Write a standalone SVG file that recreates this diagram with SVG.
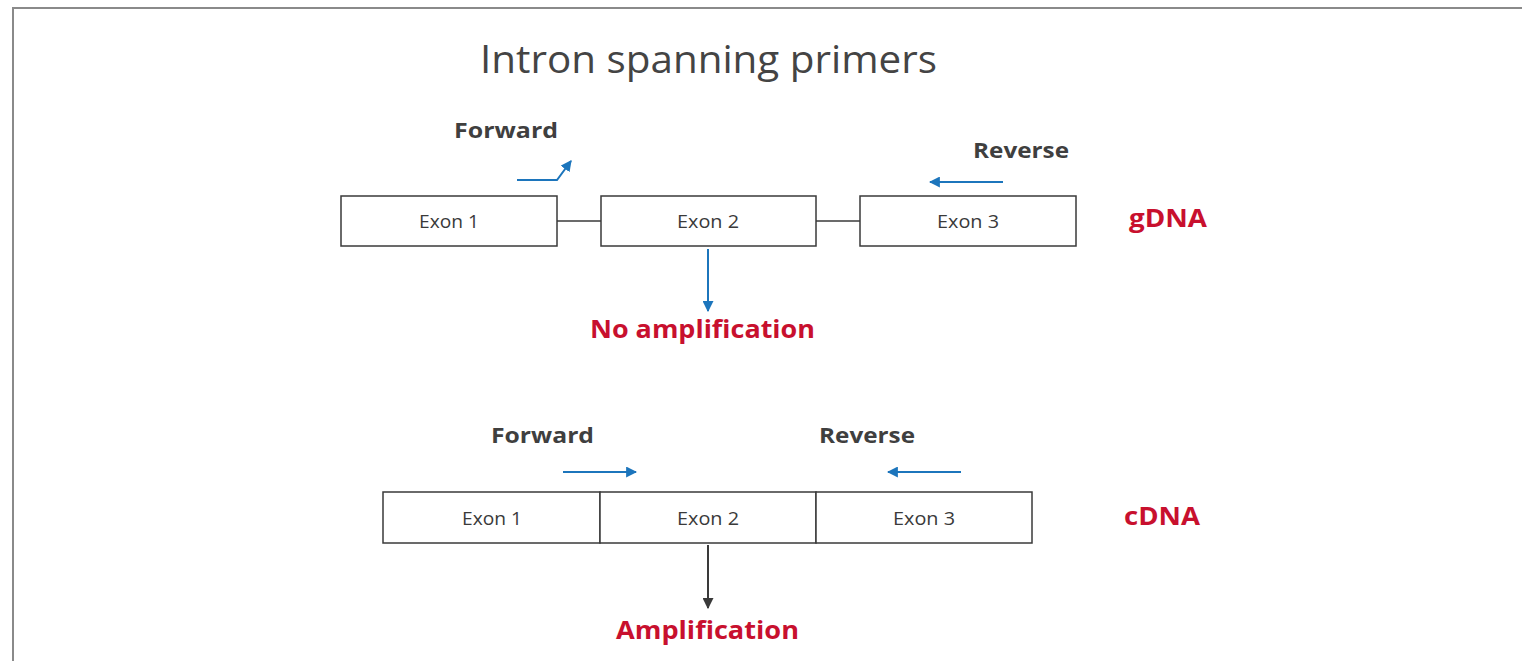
<svg xmlns="http://www.w3.org/2000/svg" width="1522" height="661" viewBox="0 0 1522 661">
<defs>
<marker id="ab" viewBox="0 0 10 10" refX="9" refY="5" markerWidth="11" markerHeight="11" markerUnits="userSpaceOnUse" orient="auto"><path d="M0,0 L10,5 L0,10 z" fill="#1c75bc"/></marker>
<marker id="ag" viewBox="0 0 10 10" refX="9" refY="5" markerWidth="11" markerHeight="11" markerUnits="userSpaceOnUse" orient="auto"><path d="M0,0 L10,5 L0,10 z" fill="#3a3a3a"/></marker>
</defs>
<style>
.box{fill:#fff;stroke:#3a3a3a;stroke-width:1.5}
.ex{font-family:"Open Sans","Liberation Sans",sans-serif;font-size:18px;fill:#3a3a3a;text-anchor:middle}
.lab{font-family:"Open Sans","Liberation Sans",sans-serif;font-size:22px;font-weight:bold;fill:#3f3f3f}
.red{font-family:"Open Sans","Liberation Sans",sans-serif;font-size:25px;font-weight:bold;fill:#c8102e}
.blue{fill:none;stroke:#1c75bc;stroke-width:2}
.gray{fill:none;stroke:#3a3a3a;stroke-width:2}
.link{stroke:#3a3a3a;stroke-width:1.5}
</style>
<rect x="0" y="0" width="1522" height="661" fill="#fff"/>
<path d="M13,661 L13,8 L1522,8" fill="none" stroke="#8a8a8a" stroke-width="2"/>
<text x="480" y="73" font-family="'Open Sans','Liberation Sans',sans-serif" font-size="39" fill="#444" textLength="457" lengthAdjust="spacingAndGlyphs">Intron spanning primers</text>

<g id="connectors">
<line class="link" x1="557" y1="221" x2="601" y2="221"/>
<line class="link" x1="816" y1="221" x2="860" y2="221"/>
<path class="blue" d="M517,180 L557,180 L571,161" marker-end="url(#ab)"/>
<line class="blue" x1="1003" y1="182" x2="930" y2="182" marker-end="url(#ab)"/>
<line class="blue" x1="708" y1="249" x2="708" y2="311" marker-end="url(#ab)"/>
<line class="blue" x1="563" y1="472" x2="636" y2="472" marker-end="url(#ab)"/>
<line class="blue" x1="961" y1="472" x2="888" y2="472" marker-end="url(#ab)"/>
<line class="gray" x1="708" y1="545" x2="708" y2="608" marker-end="url(#ag)"/>
</g>

<g id="g-exon1"><rect class="box" x="341" y="196" width="216" height="50"/><text class="ex" x="449" y="228" textLength="60" lengthAdjust="spacingAndGlyphs">Exon 1</text></g>
<g id="g-exon2"><rect class="box" x="601" y="196" width="215" height="50"/><text class="ex" x="708" y="228" textLength="62" lengthAdjust="spacingAndGlyphs">Exon 2</text></g>
<g id="g-exon3"><rect class="box" x="860" y="196" width="216" height="50"/><text class="ex" x="968" y="228" textLength="62" lengthAdjust="spacingAndGlyphs">Exon 3</text></g>
<g id="g-forward"><text class="lab" x="454" y="138" textLength="104" lengthAdjust="spacingAndGlyphs">Forward</text></g>
<g id="g-reverse"><text class="lab" x="973" y="158" textLength="96" lengthAdjust="spacingAndGlyphs">Reverse</text></g>
<g id="g-gdna"><text class="red" x="1129" y="227" textLength="78" lengthAdjust="spacingAndGlyphs">gDNA</text></g>
<g id="g-noamp"><text class="red" x="590" y="338" textLength="225" lengthAdjust="spacingAndGlyphs">No amplification</text></g>

<g id="c-exon1"><rect class="box" x="383" y="492" width="217" height="51"/><text class="ex" x="492" y="525" textLength="60" lengthAdjust="spacingAndGlyphs">Exon 1</text></g>
<g id="c-exon2"><rect class="box" x="600" y="492" width="216" height="51"/><text class="ex" x="708" y="525" textLength="62" lengthAdjust="spacingAndGlyphs">Exon 2</text></g>
<g id="c-exon3"><rect class="box" x="816" y="492" width="216" height="51"/><text class="ex" x="924" y="525" textLength="62" lengthAdjust="spacingAndGlyphs">Exon 3</text></g>
<g id="c-forward"><text class="lab" x="491" y="443" textLength="103" lengthAdjust="spacingAndGlyphs">Forward</text></g>
<g id="c-reverse"><text class="lab" x="819" y="443" textLength="96" lengthAdjust="spacingAndGlyphs">Reverse</text></g>
<g id="c-cdna"><text class="red" x="1124" y="525" textLength="76" lengthAdjust="spacingAndGlyphs">cDNA</text></g>
<g id="c-amp"><text class="red" x="616" y="639" textLength="183" lengthAdjust="spacingAndGlyphs">Amplification</text></g>
</svg>
